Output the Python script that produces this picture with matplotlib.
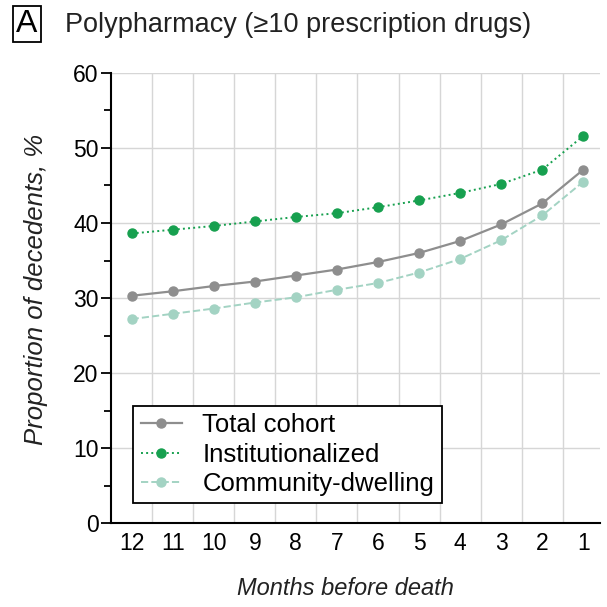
import matplotlib.pyplot as plt
import numpy as np

plt.rcParams['font.family'] = ['Liberation Sans', 'DejaVu Sans']

# months before death, plotted left to right
months = [12, 11, 10, 9, 8, 7, 6, 5, 4, 3, 2, 1]

# proportion of decedents with >=10 prescription drugs, %
total = [30.3, 30.9, 31.6, 32.2, 33.0, 33.8, 34.8, 36.0, 37.6, 39.8, 42.6, 47.1]
institutionalized = [38.6, 39.1, 39.6, 40.2, 40.8, 41.3, 42.1, 43.0, 44.0, 45.2, 47.1, 51.6]
community = [27.2, 27.9, 28.6, 29.4, 30.1, 31.1, 32.0, 33.4, 35.2, 37.7, 41.0, 45.5]

fig = plt.figure(figsize=(6.07, 6.07), dpi=100)
ax = fig.add_axes([0.183, 0.138, 0.805, 0.742])

x = np.arange(len(months))

ax.plot(x, total, color='#8e8e8e', linestyle='-', marker='o', markersize=6.5,
        linewidth=1.6, label='Total cohort', zorder=3)
ax.plot(x, institutionalized, color='#17a04f', linestyle=':', marker='o', markersize=6.5,
        linewidth=1.4, label='Institutionalized', zorder=3)
ax.plot(x, community, color='#a3d3c3', linestyle='--', marker='o', markersize=6.5,
        linewidth=1.4, label='Community-dwelling', zorder=3)

ax.set_xlim(-0.5, 11.4)
ax.set_ylim(0, 60)
ax.set_xticks(x)
ax.set_xticklabels([str(m) for m in months], fontsize=16.5)
ax.set_xticks(x[:-1] + 0.5, minor=True)
ax.tick_params(axis='x', which='both', length=0, pad=6)

ax.set_yticks(np.arange(0, 61, 10))
ax.set_yticks(np.arange(5, 60, 10), minor=True)
ax.tick_params(axis='y', which='major', labelsize=16.5, length=7, width=1.3, pad=2)
ax.tick_params(axis='y', which='minor', length=5, width=1.3)

ax.grid(True, which='minor', axis='x', color='#d6d6d6', linewidth=1.0)
ax.grid(True, which='major', axis='y', color='#d6d6d6', linewidth=1.0)
ax.set_axisbelow(True)

for side in ['top', 'right']:
    ax.spines[side].set_visible(False)
ax.spines['left'].set_linewidth(1.5)
ax.spines['bottom'].set_linewidth(1.5)

ax.set_ylabel('Proportion of decedents, %', fontsize=18.5, style='italic',
              color='#222222')
ax.yaxis.set_label_coords(-0.13, 0.52)
ax.set_xlabel('Months before death', fontsize=17, style='italic',
              color='#222222')
ax.xaxis.set_label_coords(0.48, -0.12)

leg = ax.legend(loc='lower left', bbox_to_anchor=(0.045, 0.044), fontsize=18.5,
                fancybox=False, framealpha=1, edgecolor='black',
                handlelength=1.6, handletextpad=0.8, borderpad=0.3,
                labelspacing=0.2, borderaxespad=0)
leg.get_frame().set_linewidth(1.3)

fig.text(0.044, 0.960, 'A', fontsize=23, ha='center', va='center',
         bbox=dict(boxstyle='square,pad=0.1', facecolor='white', edgecolor='black', linewidth=1.3))
fig.text(0.107, 0.958, 'Polypharmacy (\u226510 prescription drugs)', fontsize=19.5,
         ha='left', va='center', color='#222222')

fig.savefig('out.png', dpi=100)
